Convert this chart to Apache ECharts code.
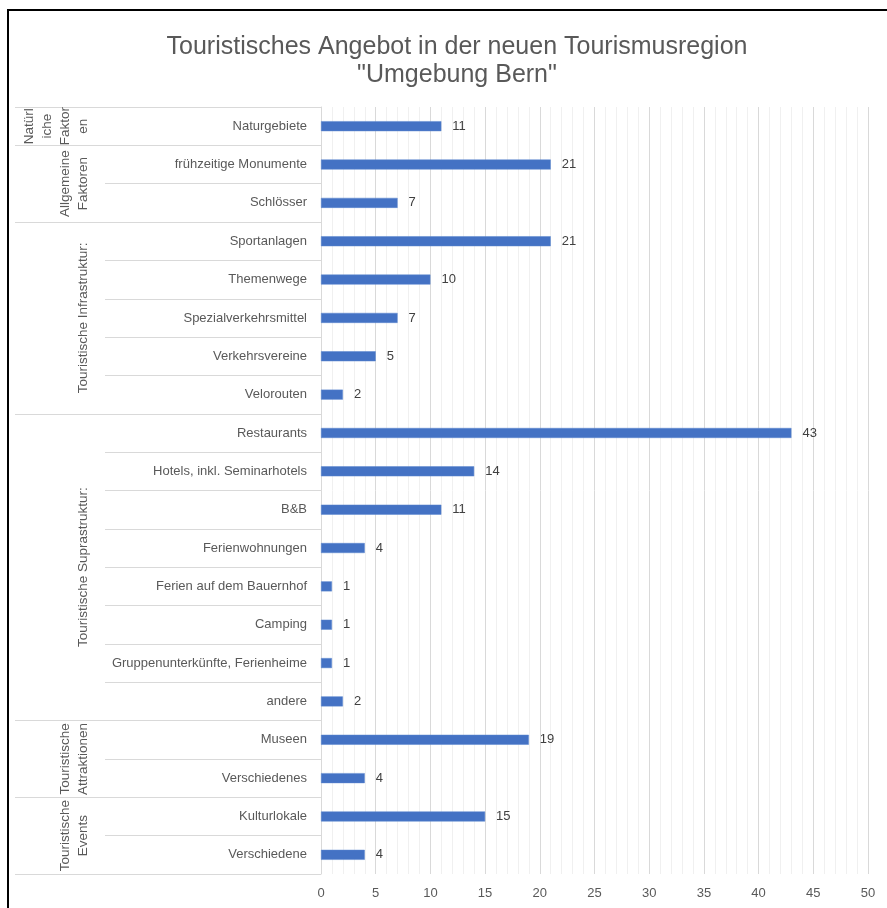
<!DOCTYPE html>
<html>
<head>
<meta charset="utf-8">
<script src="https://cdn.jsdelivr.net/npm/echarts@6/dist/echarts.min.js"></script>
<style>html,body{margin:0;padding:0;background:#fff}#c{width:887px;height:908px}</style>
</head>
<body>
<div id="c"></div>
<script>
const titleText = 'Touristisches Angebot in der neuen Tourismusregion\n"Umgebung Bern"';
const categories = ['Naturgebiete','frühzeitige Monumente','Schlösser','Sportanlagen','Themenwege','Spezialverkehrsmittel','Verkehrsvereine','Velorouten','Restaurants','Hotels, inkl. Seminarhotels','B&B','Ferienwohnungen','Ferien auf dem Bauernhof','Camping','Gruppenunterkünfte, Ferienheime','andere','Museen','Verschiedenes','Kulturlokale','Verschiedene'];
const values = [11,21,7,21,10,7,5,2,43,14,11,4,1,1,1,2,19,4,15,4];
const groupNames = ['Natürl\niche\nFaktor\nen','Allgemeine\nFaktoren','Touristische Infrastruktur:','Touristische Suprastruktur:','Touristische\nAttraktionen','Touristische\nEvents'];
const groupSizes = [1,2,5,8,2,2];
const xMin = 0, xMax = 50, xStep = 5;

const bounds = [0];
const centers = [];
groupSizes.forEach(s => { const b = bounds[bounds.length-1]; centers.push(b + s/2); bounds.push(b + s); });

const chart = echarts.init(document.getElementById('c'));
const font = 'Liberation Sans, Arial, sans-serif';
chart.setOption({
  animation: false,
  textStyle: {fontFamily: font},
  title: {text: titleText, left: 452, textAlign: 'center', top: 28,
    textStyle: {fontSize: 25, fontWeight: 'normal', color: '#595959', lineHeight: 28, fontFamily: font}},
  grid: {left: 321, right: 19, top: 107, bottom: 34, containLabel: false},
  xAxis: {type: 'value', min: xMin, max: xMax, interval: xStep,
    axisLine: {show: false}, axisTick: {show: false},
    axisLabel: {color: '#595959', fontSize: 13, margin: 13, fontFamily: font},
    splitLine: {show: true, lineStyle: {color: '#d9d9d9', width: 1}},
    minorTick: {show: false, splitNumber: 5},
    minorSplitLine: {show: true, lineStyle: {color: '#f0f0f0', width: 1}}
  },
  yAxis: [{
    type: 'category', inverse: true, data: categories,
    axisLine: {show: true, lineStyle: {color: '#d9d9d9'}},
    axisTick: {show: true, interval: 0, length: 216, lineStyle: {color: '#d9d9d9'}},
    axisLabel: {interval: 0, color: '#595959', fontSize: 13, margin: 14, fontFamily: font}
  }, {
    type: 'value', inverse: true, min: 0, max: categories.length, position: 'left',
    axisLine: {show: false}, splitLine: {show: false},
    axisTick: {show: true, customValues: bounds, length: 306, lineStyle: {color: '#d9d9d9'}},
    axisLabel: {show: true, customValues: centers, rotate: 90, margin: 229,
      align: 'center', verticalAlign: 'bottom', color: '#595959', fontSize: 13.5, lineHeight: 18, fontFamily: font,
      formatter: v => { const i = centers.indexOf(v); return i >= 0 ? groupNames[i] : ''; }}
  }],
  series: [{
    type: 'bar', data: values, barWidth: 10, yAxisIndex: 0,
    itemStyle: {color: '#4472c4', borderColor: '#5b86cf', borderWidth: 0.5},
    label: {show: true, position: 'right', distance: 11, color: '#404040', fontSize: 13, fontFamily: font}
  }],
  graphic: [{type: 'rect', shape: {x: 8, y: 10, width: 900, height: 920}, style: {fill: 'none', stroke: '#000', lineWidth: 2}, silent: true}]
});
</script>
</body>
</html>
